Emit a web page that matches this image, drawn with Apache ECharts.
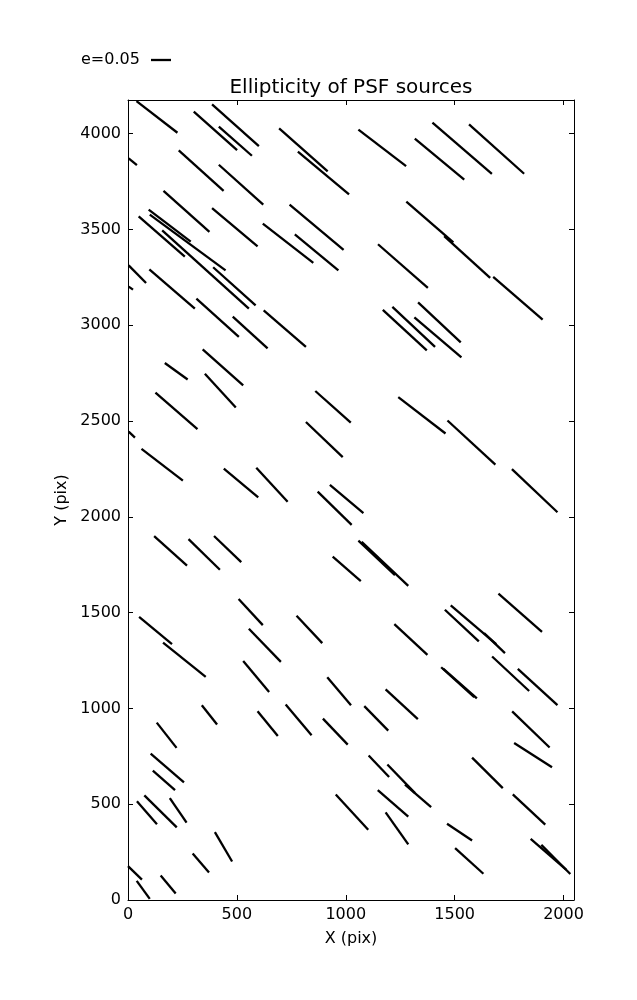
<!DOCTYPE html>
<html>
<head>
<meta charset="utf-8">
<script src="https://cdn.jsdelivr.net/npm/echarts@6/dist/echarts.min.js"></script>
<style>
html,body{margin:0;padding:0;background:#fff;}
#chart{width:637px;height:1000px;}
</style>
</head>
<body>
<div id="chart"></div>
<script>
// Whisker endpoints (pixel-detector coordinates)
var xStart = [
  39,302,386,417,694,780,3,233,417,163,386,742,619,766,95,100,49,157,3,98,391,3,
  1058,1317,1398,1566,1278,1452,1148,1677,
  314,481,623,343,169,353,126,860,817,3,62,440,589,871,927,
  1170,1214,1332,1315,1241,1467,1763,
  120,278,395,940,508,51,161,555,774,529,915,
  1058,1073,1701,1455,1482,1635,1223,1672,1790,1438,1447,1183,
  1085,1764,1773,1105,1191,1272,1580,954,1147,1183,1767,1465,1502,1849,1898,
  339,595,724,895,132,104,114,41,75,192,399,297,0,40,150
];
var yStart = [
  4170,4115,4153,4037,4028,3906,3871,3913,3838,3702,3611,3630,3531,3474,3604,3578,3568,3495,3313,3292,3303,3202,
  4021,3974,4058,4049,3646,3465,3423,3253,
  3139,3045,3078,2874,2803,2747,2648,2657,2495,2445,2355,2252,2256,2132,2167,
  3080,3096,3120,3041,2625,2503,2249,
  1899,1884,1900,1792,1571,1478,1344,1416,1484,1248,1163,
  1876,1870,1599,1515,1538,1393,1440,1271,1206,1215,1208,1099,
  1012,985,820,754,707,602,743,551,574,457,551,398,271,319,288,
  1017,985,1020,947,926,764,675,515,546,532,354,243,177,100,128
];
var xEnd = [
  227,501,601,569,917,1015,41,439,621,374,595,990,851,966,288,448,261,555,83,307,586,23,
  1277,1544,1671,1819,1494,1663,1377,1904,
  509,641,817,529,274,495,319,1023,986,32,252,598,733,1027,1081,
  1372,1410,1528,1531,1458,1687,1972,
  271,422,520,1069,619,202,357,702,892,648,1024,
  1226,1287,1901,1611,1691,1731,1375,1842,1972,1590,1602,1331,
  1195,1936,1947,1199,1318,1392,1721,1103,1287,1287,1916,1580,1632,2012,2031,
  409,688,843,1009,223,257,216,133,224,269,478,372,64,100,219
];
var yEnd = [
  4005,3914,3935,3885,3804,3683,3836,3702,3630,3488,3412,3394,3326,3287,3437,3287,3359,3087,3221,3087,3104,3186,
  3831,3760,3791,3791,3433,3247,3195,3029,
  2940,2879,2887,2686,2717,2571,2458,2492,2312,2414,2189,2102,2079,1958,2019,
  2869,2887,2911,2832,2435,2273,2024,
  1745,1724,1764,1665,1435,1336,1165,1243,1341,1086,1017,
  1696,1640,1400,1350,1336,1289,1280,1091,1017,1059,1052,944,
  884,796,693,642,558,485,584,367,435,290,393,311,137,159,136,
  916,856,860,811,794,614,574,396,379,404,201,144,106,6,34
];
var xTicks = [0, 500, 1000, 1500, 2000];
var yTicks = [0, 500, 1000, 1500, 2000, 2500, 3000, 3500, 4000];
var xMax = 2048, yMax = 4176;
var titleText = 'Ellipticity of PSF sources';
var keyLabel = 'e=0.05';

var FONT = 'DejaVu Sans';
var segs = [];
for (var i = 0; i < xStart.length; i++) {
  segs.push({coords: [[xStart[i], yStart[i]], [xEnd[i], yEnd[i]]]});
}

function fmt(list) {
  return function (v) { return list.indexOf(v) >= 0 ? String(v) : ''; };
}
var baseAxis = {
  type: 'value',
  axisLine: {show: true, onZero: false, lineStyle: {color: '#000', width: 1}},
  axisTick: {show: true, inside: true, length: 5, lineStyle: {color: '#000', width: 1}},
  splitLine: {show: false},
  axisLabel: {show: false}
};
function axis(extra) { return Object.assign({}, JSON.parse(JSON.stringify(baseAxis)), extra); }

var chart = echarts.init(document.getElementById('chart'), null, {renderer: 'canvas'});
chart.setOption({
  animation: false,
  backgroundColor: '#fff',
  grid: {left: 128, right: 63, top: 100, bottom: 100},
  xAxis: [
    axis({position: 'bottom', min: 0, max: xMax, interval: 500,
      axisLabel: {show: true, margin: 7, color: '#000', fontSize: 16, fontFamily: FONT, formatter: fmt(xTicks), showMaxLabel: true},
      name: 'X (pix)', nameLocation: 'middle', nameGap: 31,
      nameTextStyle: {color: '#000', fontSize: 16, fontFamily: FONT}}),
    axis({position: 'top', min: 0, max: xMax, interval: 500})
  ],
  yAxis: [
    axis({position: 'left', min: 0, max: yMax, interval: 500,
      axisLabel: {show: true, margin: 7, color: '#000', fontSize: 16, fontFamily: FONT, formatter: fmt(yTicks)},
      name: 'Y (pix)', nameLocation: 'middle', nameGap: 49,
      nameTextStyle: {color: '#000', fontSize: 16, fontFamily: FONT}}),
    axis({position: 'right', min: 0, max: yMax, interval: 500})
  ],
  series: [{
    type: 'lines',
    coordinateSystem: 'cartesian2d',
    xAxisIndex: 0, yAxisIndex: 0,
    silent: true,
    lineStyle: {color: '#000', width: 2.3, opacity: 1, cap: 'butt'},
    data: segs
  }],
  graphic: [
    {type: 'text', x: 351, y: 87.5, style: {text: titleText, fill: '#000', fontSize: 20, fontFamily: FONT, align: 'center', verticalAlign: 'middle'}},
    {type: 'text', x: 81, y: 60, style: {text: keyLabel, fill: '#000', fontSize: 16, fontFamily: FONT, align: 'left', verticalAlign: 'middle'}},
    {type: 'line', shape: {x1: 151, y1: 60, x2: 171, y2: 60}, style: {stroke: '#000', lineWidth: 2.3}}
  ]
});
</script>
</body>
</html>
